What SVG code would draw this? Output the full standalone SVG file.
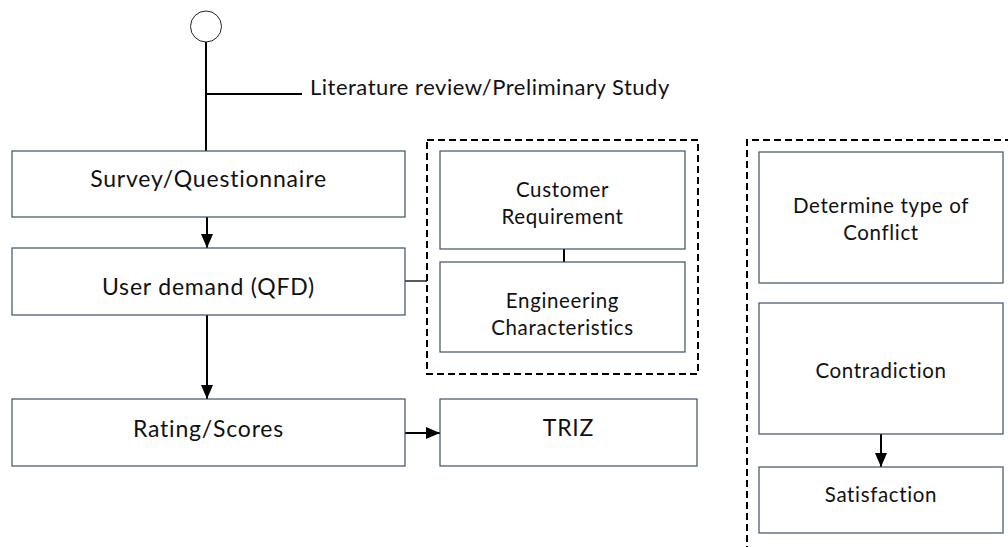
<svg xmlns="http://www.w3.org/2000/svg" width="1008" height="547" viewBox="0 0 1008 547">
<defs>
<style>
.box{fill:#fff;stroke:#3f5068;stroke-width:1.2}
.lbl{font-family:Lato,"Liberation Sans",sans-serif;fill:#111;text-anchor:middle}
.big{font-size:23px;letter-spacing:0.8px}
.sm{font-size:20.5px;letter-spacing:0.65px}
.lit{font-size:22px;letter-spacing:0.5px;text-anchor:start}
.con{stroke:#000;stroke-width:2;fill:none}
.dash{stroke:#000;stroke-width:2;fill:none;stroke-dasharray:7 4}
</style>
<marker id="ah" viewBox="0 0 14 12" refX="14" refY="6" markerWidth="14" markerHeight="12" orient="auto" markerUnits="userSpaceOnUse">
<path d="M0,0 L14,6 L0,12 z" fill="#000"/>
</marker>
</defs>
<rect width="1008" height="547" fill="#fff"/>

<g id="groups">
<rect class="dash" x="427" y="140" width="271" height="234"/>
<path class="dash" d="M1012,140 H747 V552"/>
</g>

<g id="connectors">
<line class="con" x1="206" y1="42" x2="206" y2="151"/>
<line class="con" x1="206" y1="94" x2="302" y2="94"/>
<line class="con" x1="207" y1="217" x2="207" y2="248" marker-end="url(#ah)"/>
<line class="con" x1="207" y1="315" x2="207" y2="399" marker-end="url(#ah)"/>
<line x1="405" y1="281" x2="427" y2="281" stroke="#000" stroke-width="1.3"/>
<line x1="564" y1="249" x2="564" y2="262" stroke="#000" stroke-width="2"/>
<line class="con" x1="405" y1="433" x2="440" y2="433" marker-end="url(#ah)"/>
<line class="con" x1="881" y1="434" x2="881" y2="467" marker-end="url(#ah)"/>
</g>

<g id="start">
<circle cx="206" cy="26.5" r="15.5" fill="#fff" stroke="#222" stroke-width="1"/>
</g>

<g id="literature">
<text class="lbl lit" x="310" y="95">Literature review/Preliminary Study</text>
</g>

<g id="survey">
<rect class="box" x="12" y="151" width="393" height="66"/>
<text class="lbl big" x="208.5" y="187">Survey/Questionnaire</text>
</g>

<g id="userdemand">
<rect class="box" x="12" y="248" width="393" height="67"/>
<text class="lbl big" x="208.5" y="295">User demand (QFD)</text>
</g>

<g id="rating">
<rect class="box" x="12" y="399" width="393" height="67"/>
<text class="lbl big" x="208.5" y="437">Rating/Scores</text>
</g>

<g id="triz">
<rect class="box" x="440" y="399" width="257" height="67"/>
<text class="lbl big" x="568.5" y="436">TRIZ</text>
</g>

<g id="customer">
<rect class="box" x="440" y="151" width="245" height="98"/>
<text class="lbl sm" x="562.5" y="197">Customer</text>
<text class="lbl sm" x="562.5" y="224">Requirement</text>
</g>

<g id="engineering">
<rect class="box" x="440" y="262" width="245" height="90"/>
<text class="lbl sm" x="562.5" y="308">Engineering</text>
<text class="lbl sm" x="562.5" y="335">Characteristics</text>
</g>

<g id="determine">
<rect class="box" x="759" y="152" width="244" height="131"/>
<text class="lbl sm" x="881" y="213">Determine type of</text>
<text class="lbl sm" x="881" y="240">Conflict</text>
</g>

<g id="contradiction">
<rect class="box" x="759" y="303" width="244" height="131"/>
<text class="lbl sm" x="881" y="378">Contradiction</text>
</g>

<g id="satisfaction">
<rect class="box" x="759" y="467" width="244" height="66"/>
<text class="lbl sm" x="881" y="502">Satisfaction</text>
</g>
</svg>
